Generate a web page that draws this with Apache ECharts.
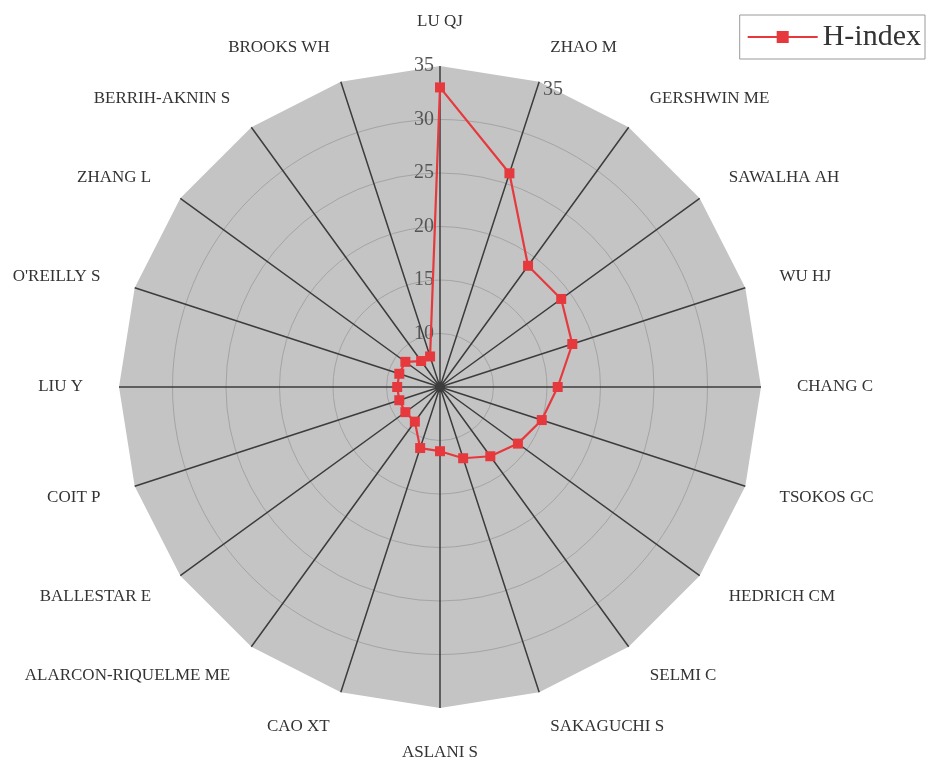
<!DOCTYPE html>
<html>
<head>
<meta charset="utf-8">
<script src="https://cdn.jsdelivr.net/npm/echarts@6/dist/echarts.min.js"></script>
<style>
html,body{margin:0;padding:0;background:#fff;}
#chart{width:934px;height:759px;}
</style>
</head>
<body>
<div id="chart"></div>
<script>
// authors, clockwise from the top
var authors = ['LU QJ','ZHAO M','GERSHWIN ME','SAWALHA AH','WU HJ','CHANG C','TSOKOS GC','HEDRICH CM',
  'SELMI C','SAKAGUCHI S','ASLANI S','CAO XT','ALARCON-RIQUELME ME','BALLESTAR E','COIT P','LIU Y',
  "O'REILLY S",'ZHANG L','BERRIH-AKNIN S','BROOKS WH'];
var hIndex = [33,26,19,19,18,16,15,14,13,12,11,11,9,9,9,9,9,9,8,8];
var rMin = 5, rMax = 35, rStep = 5;

// radar goes counter-clockwise, so flip everything after the first one
function cw(arr){ return [arr[0]].concat(arr.slice(1).reverse()); }

var serif = 'Liberation Serif';
var ctr = [440, 387], rad = 321;
var red = '#e6393e';

var chart = echarts.init(document.getElementById('chart'));
chart.setOption({
  animation:false,
  legend:{
    right:9, top:15,
    data:[{name:'H-index', icon:'path://M0,6L70,6L70,8L0,8Z M29,1L41,1L41,13L29,13Z'}],
    itemWidth:70, itemHeight:14, itemGap:6,
    borderColor:'#9a9a9a', borderWidth:1,
    padding:[7,4,7,8],
    textStyle:{fontFamily:serif, fontSize:30, color:'#333'}
  },
  radar:{
    center:ctr, radius:rad, shape:'polygon',
    splitNumber:6, z:0,
    indicator: cw(authors).map(function(n){ return {name:n, min:rMin, max:rMax}; }),
    nameGap:36,
    axisName:{color:'#333', fontFamily:serif, fontSize:17},
    axisLine:{show:false},
    splitLine:{show:false},
    splitArea:{show:true, areaStyle:{color:['#c4c4c4']}}
  },
  polar:[{center:ctr, radius:rad},{center:ctr, radius:rad}],
  angleAxis:[{
    polarIndex:0, type:'value', min:0, max:360, interval:18, startAngle:90, z:3,
    axisLine:{show:false}, axisTick:{show:false}, axisLabel:{show:false},
    splitLine:{show:true, lineStyle:{color:'#3c3c3c', width:1.5}}
  },{
    polarIndex:1, type:'value', min:0, max:360, startAngle:72, show:false
  }],
  radiusAxis:[{
    polarIndex:0, type:'value', min:rMin, max:rMax, interval:rStep, z:2,
    axisLine:{show:false}, axisTick:{show:false},
    axisLabel:{
      margin:6, fontFamily:serif, fontSize:20, color:'#555',
      formatter:function(v){ return v === rMin ? '' : v; }
    },
    splitLine:{show:true, lineStyle:{width:1,
      color:['#a4a4a4','#a4a4a4','#a4a4a4','#a4a4a4','#a4a4a4','#a4a4a4','rgba(0,0,0,0)']}}
  },{
    polarIndex:1, type:'value', min:rMin, max:rMax, interval:rStep,
    axisLine:{show:false}, axisTick:{show:false}, splitLine:{show:false},
    axisLabel:{
      margin:-25, fontFamily:serif, fontSize:20, color:'#555',
      formatter:function(v){ return v === rMax ? v : ''; }
    }
  }],
  series:[{
    name:'H-index',
    type:'radar',
    z:5,
    symbol:'rect',
    symbolSize:10,
    lineStyle:{color:red, width:2.2},
    itemStyle:{color:red},
    data:[{value:cw(hIndex), name:'H-index'}]
  }]
});
</script>
</body>
</html>
